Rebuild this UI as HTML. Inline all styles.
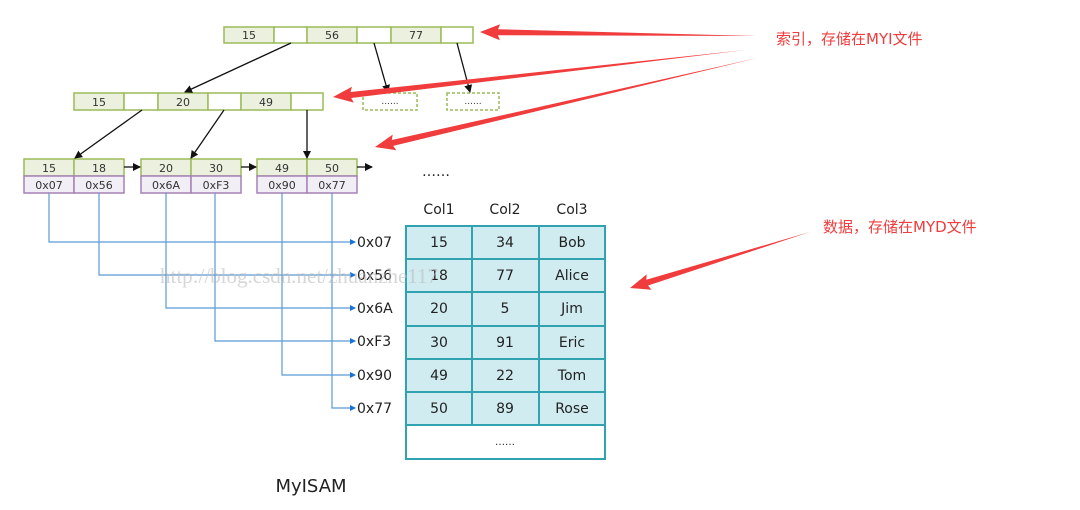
<!DOCTYPE html>
<html><head><meta charset="utf-8"><style>
html,body{margin:0;padding:0;background:#fff;}
svg{display:block;}
text{font-family:"DejaVu Sans","Liberation Sans",sans-serif;}
</style></head><body>
<svg width="1080" height="510" viewBox="0 0 1080 510" xmlns="http://www.w3.org/2000/svg">
<defs>
<marker id="ab" markerWidth="8" markerHeight="8" refX="7" refY="4" orient="auto" markerUnits="userSpaceOnUse"><path d="M0,0 L8,4 L0,8 z" fill="#111"/></marker>
<marker id="bb" markerWidth="6" markerHeight="6" refX="5" refY="3" orient="auto" markerUnits="userSpaceOnUse"><path d="M0,0 L6,3 L0,6 z" fill="#1a73d0"/></marker>
</defs>
<g stroke="#9bbb59" stroke-width="1.5" font-size="11" fill="#333">
<rect x="224" y="27" width="50" height="16" fill="#ebf1de"/><rect x="274" y="27" width="33" height="16" fill="#fff"/>
<rect x="307" y="27" width="50" height="16" fill="#ebf1de"/><rect x="357" y="27" width="34" height="16" fill="#fff"/>
<rect x="391" y="27" width="50" height="16" fill="#ebf1de"/><rect x="441" y="27" width="32" height="16" fill="#fff"/>
<rect x="74" y="93" width="50" height="17" fill="#ebf1de"/><rect x="124" y="93" width="34" height="17" fill="#fff"/>
<rect x="158" y="93" width="50" height="17" fill="#ebf1de"/><rect x="208" y="93" width="33" height="17" fill="#fff"/>
<rect x="241" y="93" width="50" height="17" fill="#ebf1de"/><rect x="291" y="93" width="32" height="17" fill="#fff"/>
<rect x="363" y="93" width="54" height="17" fill="#fff" stroke-dasharray="3,2"/>
<rect x="447" y="93" width="52" height="17" fill="#fff" stroke-dasharray="3,2"/>
<rect x="24" y="159" width="50" height="17" fill="#ebf1de"/><rect x="74" y="159" width="50" height="17" fill="#ebf1de"/>
<rect x="141" y="159" width="50" height="17" fill="#ebf1de"/><rect x="191" y="159" width="50" height="17" fill="#ebf1de"/>
<rect x="257" y="159" width="50" height="17" fill="#ebf1de"/><rect x="307" y="159" width="50" height="17" fill="#ebf1de"/>
</g>
<g stroke="#a680b8" stroke-width="1.5" fill="#f2eef5">
<rect x="24" y="176" width="50" height="17"/><rect x="74" y="176" width="50" height="17"/>
<rect x="141" y="176" width="50" height="17"/><rect x="191" y="176" width="50" height="17"/>
<rect x="257" y="176" width="50" height="17"/><rect x="307" y="176" width="50" height="17"/>
</g>
<g font-size="11" fill="#333" text-anchor="middle">
<text x="249" y="39">15</text><text x="332" y="39">56</text><text x="416" y="39">77</text>
<text x="99" y="106">15</text><text x="183" y="106">20</text><text x="266" y="106">49</text>
<text x="390" y="104" font-size="9">......</text><text x="473" y="104" font-size="9">......</text>
<text x="49" y="172">15</text><text x="99" y="172">18</text><text x="166" y="172">20</text><text x="216" y="172">30</text><text x="282" y="172">49</text><text x="332" y="172">50</text>
<text x="49" y="189">0x07</text><text x="99" y="189">0x56</text><text x="166" y="189">0x6A</text><text x="216" y="189">0xF3</text><text x="282" y="189">0x90</text><text x="332" y="189">0x77</text>
</g>
<g stroke="#111" stroke-width="1.3" marker-end="url(#ab)">
<line x1="291" y1="43" x2="185" y2="92"/><line x1="374" y1="43" x2="388" y2="92"/><line x1="457" y1="43" x2="470" y2="92"/>
<line x1="142" y1="110" x2="75" y2="158"/><line x1="224" y1="110" x2="191" y2="158"/><line x1="307" y1="110" x2="307" y2="158"/>
<line x1="124" y1="167" x2="140" y2="167"/><line x1="241" y1="167" x2="256" y2="167"/><line x1="357" y1="167" x2="372" y2="167"/>
</g>
<text x="422" y="176" font-size="14" fill="#222">……</text>
<g stroke="#5b9bd5" stroke-width="1.2" fill="none">
<polyline points="49,193 49,242 355,242" marker-end="url(#bb)"/>
<polyline points="99,193 99,275 355,275" marker-end="url(#bb)"/>
<polyline points="166,193 166,308 355,308" marker-end="url(#bb)"/>
<polyline points="215,193 215,341 355,341" marker-end="url(#bb)"/>
<polyline points="282,193 282,375 355,375" marker-end="url(#bb)"/>
<polyline points="332,193 332,408 355,408" marker-end="url(#bb)"/>
</g>
<g font-size="14" fill="#222">
<text x="357" y="247">0x07</text><text x="357" y="280">0x56</text><text x="357" y="313">0x6A</text>
<text x="357" y="346">0xF3</text><text x="357" y="380">0x90</text><text x="357" y="413">0x77</text>
</g>
<g font-size="14" fill="#222" text-anchor="middle">
<text x="439" y="214">Col1</text><text x="505" y="214">Col2</text><text x="572" y="214">Col3</text>
</g>
<rect x="406" y="226" width="199" height="199" fill="#d0ecf0" stroke="#31a2b0" stroke-width="2"/>
<rect x="406" y="425" width="199" height="34" fill="#fff" stroke="#31a2b0" stroke-width="2"/>
<g stroke="#31a2b0" stroke-width="2">
<line x1="472" y1="226" x2="472" y2="425"/><line x1="539" y1="226" x2="539" y2="425"/>
<line x1="406" y1="259" x2="605" y2="259"/><line x1="406" y1="292" x2="605" y2="292"/><line x1="406" y1="326" x2="605" y2="326"/><line x1="406" y1="359" x2="605" y2="359"/><line x1="406" y1="392" x2="605" y2="392"/>
</g>
<g font-size="14" fill="#222" text-anchor="middle">
<text x="439" y="247">15</text><text x="505" y="247">34</text><text x="572" y="247">Bob</text>
<text x="439" y="280">18</text><text x="505" y="280">77</text><text x="572" y="280">Alice</text>
<text x="439" y="313">20</text><text x="505" y="313">5</text><text x="572" y="313">Jim</text>
<text x="439" y="347">30</text><text x="505" y="347">91</text><text x="572" y="347">Eric</text>
<text x="439" y="380">49</text><text x="505" y="380">22</text><text x="572" y="380">Tom</text>
<text x="439" y="413">50</text><text x="505" y="413">89</text><text x="572" y="413">Rose</text>
<text x="505" y="445" font-size="10">……</text>
</g>
<text x="160" y="283" font-size="21" fill="#bbb" fill-opacity="0.6" style="font-family:'Liberation Serif',serif">http://blog.csdn.net/zhuanzhe117</text>
<text x="311" y="492" font-size="18" fill="#222" text-anchor="middle">MyISAM</text>
<g font-size="15" fill="#f03c3c" style="font-family:'Liberation Sans','Noto Sans CJK SC',sans-serif">
<text x="776" y="44">索引，存储在MYI文件</text>
<text x="823" y="232">数据，存储在MYD文件</text>
</g>
<g fill="#f03c3c">
<polygon points="0,0 20,-8 18,-3 277,0 18,3 20,8" transform="translate(480,32) rotate(0.83)"/>
<polygon points="0,0 20,-8 18,-3 415,0 18,3 20,8" transform="translate(333,97) rotate(-6.5)"/>
<polygon points="0,0 20,-8 18,-3 393,0 18,3 20,8" transform="translate(375,147) rotate(-13.1)"/>
<polygon points="0,0 20,-8 18,-3 189,0 18,3 20,8" transform="translate(630,288) rotate(-17.3)"/>
</g>
</svg>
</body></html>
